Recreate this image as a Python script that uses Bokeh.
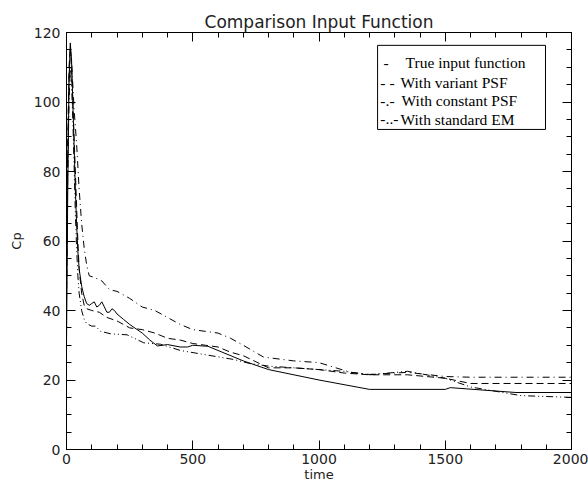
from bokeh.plotting import figure
from bokeh.models import (Range1d, SingleIntervalTicker, LinearAxis, Label, BoxAnnotation, Title,
                          CustomJSTickFormatter)
from bokeh.embed import file_html
from bokeh.resources import INLINE

# ---- data ----
t_true = [0, 5, 10, 15, 20, 25, 30, 35, 40, 45, 50, 60, 70, 80, 90, 100, 110, 120, 130, 140,
          150, 160, 170, 180, 190, 200, 225, 250, 300, 330, 360, 400, 450, 480, 500, 560, 600,
          700, 800, 1000, 1200, 1500, 1520, 1780, 2000]
v_true = [30, 75, 105, 117, 112, 100, 88, 75, 65, 57, 52, 47, 44, 42, 41.5, 42, 42.5, 41, 41.5, 42.5,
          41, 39.5, 39.5, 40.5, 40, 39, 37.5, 36, 33.5, 31.5, 29.8, 30.2, 29.5, 29.5, 30, 29.7, 28.5,
          25.5, 23, 20, 17.3, 17.3, 17.8, 16.4, 16.4]

t_var = [0, 5, 10, 15, 20, 25, 30, 35, 40, 45, 50, 60, 70, 80, 100, 130, 160, 200, 250, 300,
         350, 400, 450, 500, 550, 600, 650, 700, 800, 900, 1000, 1100, 1200, 1350, 1500, 1600, 2000]
v_var = [40, 85, 110, 116, 110, 100, 90, 80, 70, 60, 52, 45, 41.5, 40.5, 40, 39.5, 38, 37, 35, 34.5,
         33.5, 32, 31.5, 30.5, 30, 29.5, 28, 27, 23.5, 23.5, 23, 22, 21.5, 21.5, 20.5, 19, 19]

t_const = [0, 5, 10, 15, 20, 25, 30, 40, 50, 60, 70, 80, 90, 110, 140, 170, 200, 250, 300, 350,
           400, 450, 500, 550, 600, 650, 700, 780, 900, 1000, 1125, 1200, 1350, 1500, 1600, 2000]
v_const = [55, 90, 108, 115, 112, 105, 98, 88, 75, 65, 58, 53, 50, 49.5, 48.5, 46, 45.5, 43.5, 41, 40,
           38, 36, 34.5, 34, 33.5, 32, 30, 26.6, 25.5, 25, 22.2, 21.6, 22.2, 21, 20.8, 20.8]

t_em = [0, 5, 10, 15, 20, 25, 30, 35, 40, 45, 50, 60, 70, 80, 100, 115, 135, 175, 240, 306,
        372, 451, 531, 663, 729, 800, 1000, 1100, 1200, 1350, 1500, 1600, 1800, 2000]
v_em = [45, 80, 100, 110, 105, 95, 82, 68, 58, 50, 45, 40, 37.5, 36.2, 35.5, 35.5, 34, 33.3, 33, 30.7,
        30.3, 28.5, 27.5, 25.9, 24.7, 24, 23, 22.5, 21.5, 22.5, 20.5, 18, 15.5, 15]

legend_marks = ["-", "- -", "-.-", "-..-"]
legend_texts = ["True input function", "With variant PSF", "With constant PSF", "With standard EM"]

# ---- figure ----
p = figure(width=588, height=485, output_backend="svg", toolbar_location=None,
           x_range=Range1d(0, 2000), y_range=Range1d(0, 120),
           min_border_left=66, min_border_right=17, min_border_top=32, min_border_bottom=36,
           background_fill_color="white", border_fill_color="white")
p.grid.visible = False
p.outline_line_color = "black"
p.outline_line_width = 1

tick_font = "DejaVu Sans"
for ax in (p.xaxis[0], p.yaxis[0]):
    ax.major_tick_in = 9
    ax.major_tick_out = 0
    ax.minor_tick_in = 5
    ax.minor_tick_out = 0
    ax.axis_line_color = "black"
    ax.major_tick_line_color = "black"
    ax.minor_tick_line_color = "black"
    ax.major_label_text_font = tick_font
    ax.major_label_text_font_size = "14px"
    ax.major_label_text_color = "#222222"
    ax.axis_label_text_font = tick_font
    ax.axis_label_text_font_size = "13px"
    ax.axis_label_text_font_style = "normal"
    ax.axis_label_text_color = "#222222"
    ax.major_label_standoff = 4

p.xaxis[0].ticker = SingleIntervalTicker(interval=500, num_minor_ticks=5)
p.yaxis[0].ticker = SingleIntervalTicker(interval=20, num_minor_ticks=4)
p.xaxis[0].axis_label = "time"
p.xaxis[0].axis_label_standoff = 0
p.yaxis[0].axis_label = "Cp"
p.yaxis[0].axis_label_standoff = 7
p.yaxis[0].major_label_standoff = 6

blank = CustomJSTickFormatter(code="return ''")
top_ax = LinearAxis(ticker=SingleIntervalTicker(interval=500, num_minor_ticks=5),
                    formatter=blank, major_label_standoff=0,
                    major_tick_in=9, major_tick_out=0, minor_tick_in=5, minor_tick_out=0)
right_ax = LinearAxis(ticker=SingleIntervalTicker(interval=20, num_minor_ticks=4),
                      formatter=blank, major_label_standoff=0,
                      major_tick_in=9, major_tick_out=0, minor_tick_in=5, minor_tick_out=0)
p.add_layout(top_ax, "above")
p.add_layout(right_ax, "right")

p.add_layout(Title(text="Comparison Input Function", align="center", text_font="DejaVu Sans",
                   text_font_size="17px", text_font_style="normal", text_color="#222222",
                   standoff=2, offset=0), "above")

# ---- curves ----
p.line(t_true, v_true, line_color="black", line_width=1)
p.line(t_var, v_var, line_color="black", line_width=1, line_dash="7 4")
p.line(t_const, v_const, line_color="black", line_width=1, line_dash="7 4 1 4")
p.line(t_em, v_em, line_color="black", line_width=1, line_dash="7 3 1 3 1 3")

# ---- legend (text-only, as in the reference) ----
p.add_layout(BoxAnnotation(left=1232, right=1897, bottom=92.1, top=116.3,
                           fill_color=None, line_color="black", line_width=1, line_alpha=1))
leg_y = [111.3, 105.7, 100.4, 95.1]
mark_x = [1255, 1243, 1243, 1243]
text_x = [1343, 1323, 1327, 1323]
for i in range(4):
    p.add_layout(Label(x=mark_x[i], y=leg_y[i], text=legend_marks[i], text_font="Liberation Serif",
                       text_font_size="15.5px", text_baseline="middle", text_color="black"))
    p.add_layout(Label(x=text_x[i], y=leg_y[i], text=legend_texts[i], text_font="Liberation Serif",
                       text_font_size="15.5px", text_baseline="middle", text_color="black"))

open("out.html", "w").write(file_html(p, INLINE))
